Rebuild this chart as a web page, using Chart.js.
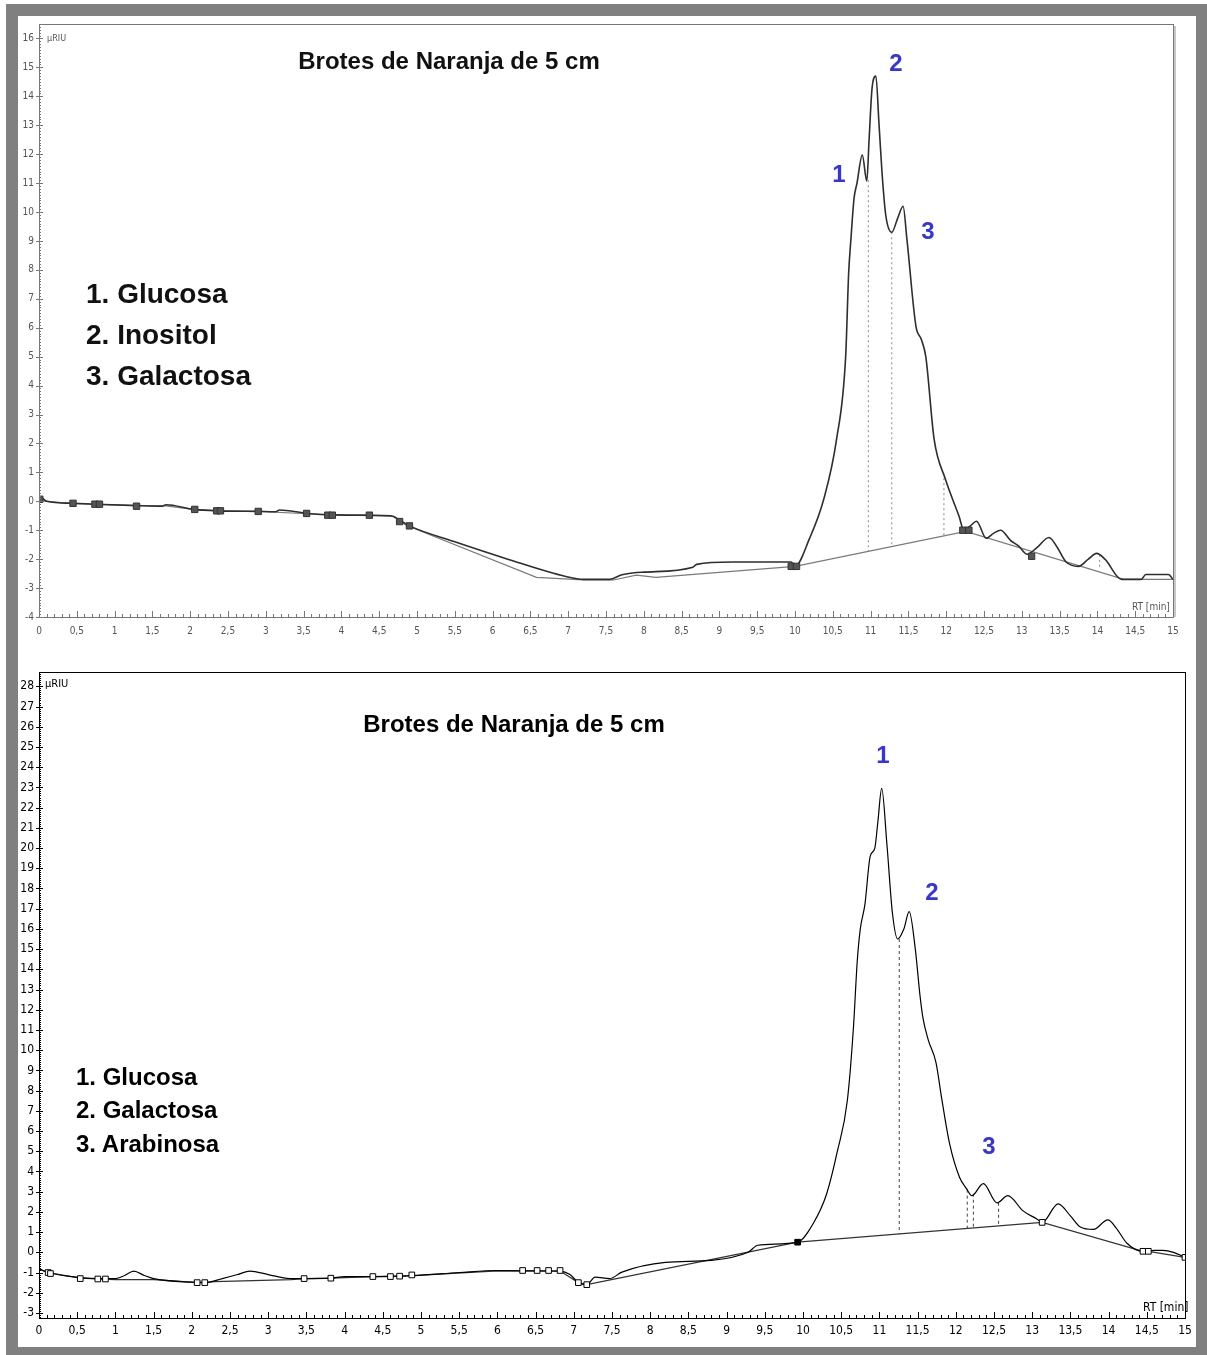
<!DOCTYPE html>
<html>
<head>
<meta charset="utf-8">
<script src="https://cdn.jsdelivr.net/npm/chart.js@4.4.1/dist/chart.umd.min.js"></script>
<style>
  html, body { margin: 0; padding: 0; background: #fff; }
  #page { position: relative; width: 1207px; height: 1355px; overflow: hidden; font-family: "Liberation Sans", Arial, sans-serif; }
  #frame { position: absolute; left: 6px; top: 4px; width: 1201px; height: 1351px; background: #808080; }
  #inner { position: absolute; left: 18px; top: 16px; width: 1178px; height: 1331px; background: #fff; }
  canvas { position: absolute; left: 0; }
  #topChart { top: 0; }
  #botChart { top: 660px; }
  .lbl { position: absolute; white-space: nowrap; transform: translate(-50%, -50%); font-weight: bold; color: #000; line-height: 1; }
  .leg { position: absolute; white-space: nowrap; font-weight: bold; color: #000; line-height: 1; transform: translateY(-50%); }
  .pk { color: #3434e0; font-size: 24px; }
  .unit { position: absolute; white-space: nowrap; font-family: "Liberation Sans Narrow", "DejaVu Sans Condensed", "Liberation Sans", sans-serif; line-height: 1; transform: translateY(-50%); }
</style>
</head>
<body>
<div id="page">
  <div id="frame"></div>
  <div id="inner"></div>
  <canvas id="topChart" width="1207" height="660"></canvas>
  <canvas id="botChart" width="1207" height="695"></canvas>

  <!-- top panel texts -->
  <div class="lbl" style="left:449px;top:61px;font-size:24px;color:#111">Brotes de Naranja de 5 cm</div>
  <div class="leg" style="left:86px;top:294px;font-size:28px;color:#111">1. Glucosa</div>
  <div class="leg" style="left:86px;top:335px;font-size:28px;color:#111">2. Inositol</div>
  <div class="leg" style="left:86px;top:376px;font-size:28px;color:#111">3. Galactosa</div>
  <div class="lbl pk" style="left:839px;top:174px">1</div>
  <div class="lbl pk" style="left:896px;top:63px">2</div>
  <div class="lbl pk" style="left:928px;top:231px">3</div>
  <div class="unit" style="left:47px;top:38px;font-size:9px;color:#555">µRIU</div>
  <div class="unit" style="left:1132px;top:607px;font-size:10px;color:#555">RT [min]</div>

  <!-- bottom panel texts -->
  <div class="lbl" style="left:514px;top:724px;font-size:24px">Brotes de Naranja de 5 cm</div>
  <div class="leg" style="left:76px;top:1077px;font-size:24px">1. Glucosa</div>
  <div class="leg" style="left:76px;top:1110px;font-size:24px">2. Galactosa</div>
  <div class="leg" style="left:76px;top:1144px;font-size:24px">3. Arabinosa</div>
  <div class="lbl pk" style="left:883px;top:755px">1</div>
  <div class="lbl pk" style="left:932px;top:892px">2</div>
  <div class="lbl pk" style="left:989px;top:1146px">3</div>
  <div class="unit" style="left:45px;top:683px;font-size:11px">µRIU</div>
  <div class="unit" style="left:1143px;top:1307px;font-size:12px">RT [min]</div>
</div>

<script>
// ---- top chromatogram (Glucosa / Inositol / Galactosa) ----
const topSignalRT = [0, 0.03, 0.1, 0.45, 0.75, 1.3, 1.63, 1.68, 2.05, 2.4, 2.9, 3.13, 3.18, 3.55, 3.9, 4.4, 4.65, 4.77, 4.9, 5.5, 6.2, 6.97, 7.2, 7.55, 7.7, 7.85, 8.0, 8.65, 8.7, 9.17, 9.95, 10.0, 10.19, 10.38, 10.55, 10.67, 10.71, 10.74, 10.78, 10.82, 10.89, 10.95, 10.98, 11.02, 11.07, 11.11, 11.15, 11.2, 11.28, 11.36, 11.43, 11.48, 11.6, 11.67, 11.73, 11.84, 11.99, 12.17, 12.23, 12.32, 12.4, 12.53, 12.63, 12.72, 12.85, 12.96, 13.07, 13.2, 13.36, 13.47, 13.58, 13.75, 13.88, 13.99, 14.1, 14.32, 14.58, 14.64, 14.94, 15];
const topSignal = [0.05, 0.12, 0.0, -0.07, -0.1, -0.15, -0.17, -0.12, -0.28, -0.33, -0.35, -0.36, -0.3, -0.42, -0.47, -0.48, -0.5, -0.65, -0.85, -1.4, -2.0, -2.6, -2.7, -2.7, -2.55, -2.48, -2.45, -2.28, -2.18, -2.1, -2.1, -2.25, -1.3, 0.07, 2.15, 5.0, 7.9, 9.07, 10.45, 11.0, 11.97, 11.07, 12.5, 14.3, 14.7, 13.1, 11.4, 9.9, 9.3, 9.8, 10.2, 9.07, 6.05, 5.6, 5.0, 2.15, 0.76, -0.52, -0.97, -0.85, -0.69, -1.28, -1.1, -1.0, -1.35, -1.55, -1.83, -1.6, -1.25, -1.6, -2.08, -2.25, -2.0, -1.8, -2.0, -2.7, -2.7, -2.53, -2.53, -2.7];
const topBaseRT = [0, 0.45, 1.3, 1.65, 2.05, 2.35, 2.9, 3.55, 3.9, 4.4, 4.7, 4.85, 6.58, 7.2, 7.6, 7.9, 8.16, 10.0, 12.26, 14.35, 15];
const topBase = [0.02, -0.08, -0.15, -0.15, -0.28, -0.33, -0.35, -0.43, -0.47, -0.5, -0.52, -0.82, -2.63, -2.72, -2.72, -2.55, -2.63, -2.25, -1.04, -2.7, -2.7];
const topMarkRT = [0.01, 0.45, 0.74, 0.8, 1.29, 2.06, 2.35, 2.4, 2.9, 3.54, 3.82, 3.88, 4.37, 4.77, 4.9, 9.95, 10.02, 12.22, 12.3, 13.13];
const topMark = [0.07, -0.07, -0.1, -0.1, -0.17, -0.28, -0.33, -0.33, -0.35, -0.42, -0.48, -0.48, -0.48, -0.7, -0.85, -2.25, -2.25, -1.0, -1.0, -1.9];
const topDropRT = [10.97, 11.28, 11.97, 14.03];
const topDropHi = [11.1, 9.3, 0.8, -1.85];
const topDropLo = [-1.73, -1.57, -1.2, -2.35];

// ---- bottom chromatogram (Glucosa / Galactosa / Arabinosa) ----
const botSignalRT = [0, 0.12, 0.54, 0.8, 1.0, 1.12, 1.24, 1.38, 1.5, 2.0, 2.18, 2.4, 2.6, 2.76, 3.0, 3.28, 3.47, 3.82, 4.0, 4.37, 4.9, 5.5, 6.0, 6.82, 6.95, 7.06, 7.17, 7.28, 7.47, 7.63, 8.2, 8.8, 9.28, 9.41, 9.93, 10.13, 10.31, 10.45, 10.58, 10.66, 10.71, 10.75, 10.81, 10.88, 10.94, 10.98, 11.03, 11.1, 11.17, 11.24, 11.32, 11.39, 11.47, 11.53, 11.57, 11.64, 11.74, 11.82, 11.92, 12.05, 12.14, 12.21, 12.36, 12.54, 12.68, 12.88, 13.06, 13.13, 13.34, 13.5, 13.63, 13.8, 13.99, 14.1, 14.24, 14.45, 14.6, 14.71, 14.85, 15];
const botSignal = [-0.8, -1.0, -1.25, -1.3, -1.3, -1.15, -0.93, -1.15, -1.3, -1.48, -1.5, -1.3, -1.1, -0.93, -1.1, -1.3, -1.3, -1.28, -1.2, -1.2, -1.15, -1.0, -0.9, -0.93, -1.1, -1.5, -1.6, -1.23, -1.3, -0.98, -0.5, -0.4, 0.0, 0.35, 0.5, 1.4, 2.9, 5.0, 7.5, 11.1, 14.4, 16.0, 17.2, 19.6, 20.0, 21.3, 22.95, 20.1, 16.8, 15.5, 16.0, 16.85, 15.0, 12.75, 11.6, 10.5, 9.4, 7.5, 5.35, 3.7, 3.15, 2.8, 3.4, 2.45, 2.8, 2.05, 1.65, 1.48, 2.4, 1.8, 1.25, 1.13, 1.6, 1.2, 0.45, 0.05, 0.1, 0.1, 0.0, -0.25];
const botBaseRT = [0, 0.12, 0.54, 1.0, 1.5, 2.0, 2.18, 2.3, 3.3, 3.47, 3.82, 4.37, 4.9, 6.0, 6.82, 7.06, 7.17, 9.93, 13.13, 14.45, 14.52, 15];
const botBase = [-0.85, -1.0, -1.28, -1.35, -1.35, -1.48, -1.5, -1.45, -1.35, -1.3, -1.28, -1.2, -1.15, -0.92, -0.93, -1.5, -1.6, 0.5, 1.48, 0.05, 0.05, -0.25];
const botMarkRT = [0.12, 0.15, 0.54, 0.77, 0.87, 2.07, 2.17, 3.47, 3.82, 4.37, 4.6, 4.72, 4.88, 6.33, 6.52, 6.67, 6.82, 7.06, 7.17, 9.93, 13.13, 14.45, 14.52, 15.0];
const botMark = [-1.0, -1.05, -1.3, -1.32, -1.32, -1.5, -1.5, -1.3, -1.28, -1.2, -1.2, -1.18, -1.12, -0.9, -0.9, -0.9, -0.9, -1.5, -1.6, 0.5, 1.48, 0.05, 0.05, -0.25];
const botDropRT = [11.26, 12.15, 12.23, 12.56];
const botDropHi = [15.5, 3.1, 2.9, 2.45];
const botDropLo = [0.91, 1.18, 1.2, 1.3];

const tickFont = "'Liberation Sans Narrow', 'DejaVu Sans Condensed', 'Liberation Sans', sans-serif";

function pts(xs, ys) {
  return xs.map((x, i) => ({ x: x, y: ys[i] }));
}

// axis box + dense minor ticks, like the HPLC software
const frameTicks = {
  id: "frameTicks",
  afterDraw(chart, args, opts) {
    const { ctx, chartArea: a, scales } = chart;
    const x = scales.x, y = scales.y;
    ctx.save();
    ctx.strokeStyle = opts.color;
    ctx.lineWidth = 1;
    ctx.beginPath();
    for (let i = 0; i <= 150; i++) {
      const px = Math.round(x.getPixelForValue(i / 10)) + 0.5;
      const len = i % 5 === 0 ? 6 : 3;
      ctx.moveTo(px, a.bottom);
      ctx.lineTo(px, a.bottom - len);
    }
    for (let i = Math.ceil(y.min * 10); i <= Math.floor(y.max * 10); i++) {
      const py = Math.round(y.getPixelForValue(i / 10)) + 0.5;
      const major = i % 10 === 0;
      ctx.moveTo(a.left - (major ? 3 : 0), py);
      ctx.lineTo(a.left + (major ? 4 : 2), py);
    }
    ctx.stroke();
    if (opts.shadow) {
      ctx.strokeStyle = opts.shadow;
      ctx.lineWidth = 2;
      ctx.beginPath();
      ctx.moveTo(Math.round(a.right) + 2, a.top + 2);
      ctx.lineTo(Math.round(a.right) + 2, a.bottom);
      ctx.stroke();
    }
    ctx.strokeStyle = opts.border;
    ctx.lineWidth = 1;
    ctx.strokeRect(Math.round(a.left) + 0.5, Math.round(a.top) + 0.5, Math.round(a.width), Math.round(a.height));
    ctx.restore();
  }
};

function makeChart(id, c) {
  const datasets = [
    {
      label: "señal",
      data: pts(c.sigRT, c.sig),
      borderColor: c.sigColor,
      borderWidth: c.sigWidth,
      pointRadius: 0,
      cubicInterpolationMode: "monotone",
      order: 1
    },
    {
      label: "línea base",
      data: pts(c.baseRT, c.base),
      borderColor: c.baseColor,
      borderWidth: 1.2,
      pointRadius: 0,
      tension: 0,
      order: 2
    },
    {
      label: "marcas",
      data: pts(c.markRT, c.mark),
      showLine: false,
      pointStyle: "rect",
      pointRadius: c.markSize,
      pointBorderWidth: 1,
      pointBorderColor: c.markBorder,
      pointBackgroundColor: c.markFill,
      order: 0
    }
  ];
  // vertical drop lines from the peak split points down to the baseline
  c.dropRT.forEach((rt, i) => {
    datasets.push({
      label: "corte " + (i + 1),
      data: [{ x: rt, y: c.dropHi[i] }, { x: rt, y: c.dropLo[i] }],
      borderColor: c.dropColor,
      borderWidth: 1,
      borderDash: c.dropDash,
      pointRadius: 0,
      order: 3
    });
  });

  return new Chart(document.getElementById(id), {
    type: "line",
    data: { datasets: datasets },
    options: {
      responsive: false,
      animation: false,
      devicePixelRatio: 1,
      layout: { padding: { left: 0, right: c.padRight, top: c.padTop, bottom: 0 } },
      plugins: {
        legend: { display: false },
        tooltip: { enabled: false },
        frameTicks: { color: c.axisColor, border: c.axisColor, shadow: c.shadow }
      },
      scales: {
        x: {
          type: "linear",
          min: 0,
          max: 15,
          grid: { display: false, drawTicks: false },
          border: { display: false },
          ticks: {
            stepSize: 0.5,
            autoSkip: false,
            maxRotation: 0,
            padding: c.xPad,
            color: c.labelColor,
            font: { size: c.fontSize, family: tickFont },
            callback: (v) => String(v).replace(".", ",")
          },
          afterFit: (s) => { s.height = c.xHeight; }
        },
        y: {
          type: "linear",
          min: c.yMin,
          max: c.yMax,
          grid: { display: false, drawTicks: false },
          border: { display: false },
          ticks: {
            autoSkip: false,
            padding: 5,
            color: c.labelColor,
            font: { size: c.fontSize, family: tickFont },
            callback: (v) => String(v)
          },
          // one label per whole unit, even near the clipped ends
          afterBuildTicks: (s) => {
            const t = [];
            for (let v = Math.ceil(s.min); v <= Math.floor(s.max); v++) t.push({ value: v });
            s.ticks = t;
          },
          afterFit: (s) => { s.width = 39; }
        }
      }
    },
    plugins: [frameTicks]
  });
}

makeChart("topChart", {
  sigRT: topSignalRT, sig: topSignal,
  baseRT: topBaseRT, base: topBase,
  markRT: topMarkRT, mark: topMark,
  dropRT: topDropRT, dropHi: topDropHi, dropLo: topDropLo,
  sigColor: "#2e2e2e", sigWidth: 1.6, baseColor: "#7a7a7a",
  markBorder: "#333", markFill: "#555", markSize: 4.5,
  dropColor: "#888", dropDash: [2, 3],
  yMin: -4, yMax: 16.5,
  padRight: 34, padTop: 24, xHeight: 43, xPad: 8,
  axisColor: "#777", labelColor: "#555", fontSize: 10, shadow: "#c8c8c8"
});

makeChart("botChart", {
  sigRT: botSignalRT, sig: botSignal,
  baseRT: botBaseRT, base: botBase,
  markRT: botMarkRT, mark: botMark,
  dropRT: botDropRT, dropHi: botDropHi, dropLo: botDropLo,
  sigColor: "#000", sigWidth: 1.2, baseColor: "#333",
  markBorder: "#000", markFill: (ctx) => (ctx.dataIndex === 19 ? "#000" : "#fff"), markSize: 4,
  dropColor: "#444", dropDash: [3, 3],
  yMin: -3.25, yMax: 28.7,
  padRight: 22, padTop: 9, xHeight: 37, xPad: 6,
  axisColor: "#000", labelColor: "#000", fontSize: 12, shadow: null
});
</script>
</body>
</html>
